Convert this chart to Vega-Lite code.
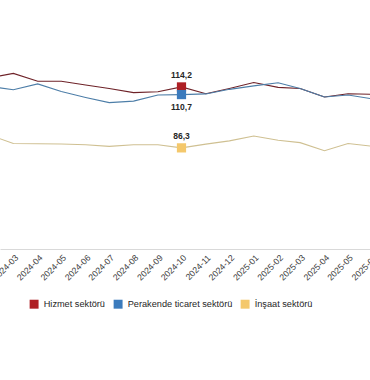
{
  "$schema": "https://vega.github.io/schema/vega-lite/v6.json",
  "width": 370,
  "height": 249,
  "autosize": "none",
  "padding": {"left": 0, "top": 0, "right": 0, "bottom": 131},
  "background": "white",
  "config": {
    "view": {"stroke": null},
    "font": "Liberation Sans",
    "locale": {"number": {"decimal": ",", "thousands": ".", "grouping": [3], "currency": ["", " TL"]}},
    "legend": {
      "orient": "none",
      "legendX": 29.5,
      "legendY": 299.5,
      "direction": "horizontal",
      "symbolType": "square",
      "symbolSize": 80,
      "symbolStrokeWidth": 0,
      "labelFontSize": 9.2,
      "labelColor": "#262626",
      "labelOffset": 5,
      "columnPadding": 8,
      "title": null
    }
  },
  "data": {
    "values": [
      {"month": "2024-02-01", "series": "Hizmet sektörü", "value": 118.5},
      {"month": "2024-03-01", "series": "Hizmet sektörü", "value": 120.4},
      {"month": "2024-04-01", "series": "Hizmet sektörü", "value": 116.8},
      {"month": "2024-05-01", "series": "Hizmet sektörü", "value": 116.8},
      {"month": "2024-06-01", "series": "Hizmet sektörü", "value": 115.1},
      {"month": "2024-07-01", "series": "Hizmet sektörü", "value": 113.5},
      {"month": "2024-08-01", "series": "Hizmet sektörü", "value": 111.6},
      {"month": "2024-09-01", "series": "Hizmet sektörü", "value": 112.0},
      {"month": "2024-10-01", "series": "Hizmet sektörü", "value": 114.2},
      {"month": "2024-11-01", "series": "Hizmet sektörü", "value": 111.1},
      {"month": "2024-12-01", "series": "Hizmet sektörü", "value": 113.5},
      {"month": "2025-01-01", "series": "Hizmet sektörü", "value": 116.2},
      {"month": "2025-02-01", "series": "Hizmet sektörü", "value": 114.0},
      {"month": "2025-03-01", "series": "Hizmet sektörü", "value": 113.5},
      {"month": "2025-04-01", "series": "Hizmet sektörü", "value": 109.6},
      {"month": "2025-05-01", "series": "Hizmet sektörü", "value": 111.1},
      {"month": "2025-06-01", "series": "Hizmet sektörü", "value": 110.8},
      {"month": "2024-02-01", "series": "Perakende ticaret sektörü", "value": 114.4},
      {"month": "2024-03-01", "series": "Perakende ticaret sektörü", "value": 112.9},
      {"month": "2024-04-01", "series": "Perakende ticaret sektörü", "value": 115.6},
      {"month": "2024-05-01", "series": "Perakende ticaret sektörü", "value": 112.1},
      {"month": "2024-06-01", "series": "Perakende ticaret sektörü", "value": 109.4},
      {"month": "2024-07-01", "series": "Perakende ticaret sektörü", "value": 107.0},
      {"month": "2024-08-01", "series": "Perakende ticaret sektörü", "value": 107.7},
      {"month": "2024-09-01", "series": "Perakende ticaret sektörü", "value": 110.5},
      {"month": "2024-10-01", "series": "Perakende ticaret sektörü", "value": 110.7},
      {"month": "2024-11-01", "series": "Perakende ticaret sektörü", "value": 111.0},
      {"month": "2024-12-01", "series": "Perakende ticaret sektörü", "value": 113.1},
      {"month": "2025-01-01", "series": "Perakende ticaret sektörü", "value": 114.7},
      {"month": "2025-02-01", "series": "Perakende ticaret sektörü", "value": 116.1},
      {"month": "2025-03-01", "series": "Perakende ticaret sektörü", "value": 113.5},
      {"month": "2025-04-01", "series": "Perakende ticaret sektörü", "value": 109.6},
      {"month": "2025-05-01", "series": "Perakende ticaret sektörü", "value": 110.5},
      {"month": "2025-06-01", "series": "Perakende ticaret sektörü", "value": 108.7},
      {"month": "2024-02-01", "series": "İnşaat sektörü", "value": 92.0},
      {"month": "2024-03-01", "series": "İnşaat sektörü", "value": 88.3},
      {"month": "2024-04-01", "series": "İnşaat sektörü", "value": 88.2},
      {"month": "2024-05-01", "series": "İnşaat sektörü", "value": 88.1},
      {"month": "2024-06-01", "series": "İnşaat sektörü", "value": 87.7},
      {"month": "2024-07-01", "series": "İnşaat sektörü", "value": 87.0},
      {"month": "2024-08-01", "series": "İnşaat sektörü", "value": 87.7},
      {"month": "2024-09-01", "series": "İnşaat sektörü", "value": 87.7},
      {"month": "2024-10-01", "series": "İnşaat sektörü", "value": 86.3},
      {"month": "2024-11-01", "series": "İnşaat sektörü", "value": 88.0},
      {"month": "2024-12-01", "series": "İnşaat sektörü", "value": 89.5},
      {"month": "2025-01-01", "series": "İnşaat sektörü", "value": 91.7},
      {"month": "2025-02-01", "series": "İnşaat sektörü", "value": 89.8},
      {"month": "2025-03-01", "series": "İnşaat sektörü", "value": 88.7},
      {"month": "2025-04-01", "series": "İnşaat sektörü", "value": 85.0},
      {"month": "2025-05-01", "series": "İnşaat sektörü", "value": 88.3},
      {"month": "2025-06-01", "series": "İnşaat sektörü", "value": 87.0}
    ]
  },
  "encoding": {
    "x": {
      "field": "month",
      "type": "temporal",
      "scale": {
        "type": "utc",
        "domain": [
          {"year": 2024, "month": 2, "date": 13, "utc": true},
          {"year": 2025, "month": 6, "date": 1, "utc": true}
        ],
        "range": [0, 372.4]
      },
      "axis": {
        "title": null,
        "values": [
          {"year": 2024, "month": 3, "date": 1, "utc": true},
          {"year": 2024, "month": 4, "date": 1, "utc": true},
          {"year": 2024, "month": 5, "date": 1, "utc": true},
          {"year": 2024, "month": 6, "date": 1, "utc": true},
          {"year": 2024, "month": 7, "date": 1, "utc": true},
          {"year": 2024, "month": 8, "date": 1, "utc": true},
          {"year": 2024, "month": 9, "date": 1, "utc": true},
          {"year": 2024, "month": 10, "date": 1, "utc": true},
          {"year": 2024, "month": 11, "date": 1, "utc": true},
          {"year": 2024, "month": 12, "date": 1, "utc": true},
          {"year": 2025, "month": 1, "date": 1, "utc": true},
          {"year": 2025, "month": 2, "date": 1, "utc": true},
          {"year": 2025, "month": 3, "date": 1, "utc": true},
          {"year": 2025, "month": 4, "date": 1, "utc": true},
          {"year": 2025, "month": 5, "date": 1, "utc": true},
          {"year": 2025, "month": 6, "date": 1, "utc": true}
        ],
        "labelExpr": "utcFormat(datum.value, '%Y-%m')",
        "labelAngle": -45,
        "labelFontSize": 8.7,
        "labelColor": "#3a3a3a",
        "labelPadding": 4,
        "labelBound": false,
        "labelOverlap": false,
        "labelFlush": false,
        "ticks": false,
        "grid": false,
        "domainColor": "#d9d9d9",
        "domainWidth": 1
      }
    },
    "y": {
      "field": "value",
      "type": "quantitative",
      "scale": {"domain": [40, 154], "zero": false, "nice": false},
      "axis": null
    }
  },
  "layer": [
    {
      "mark": {"type": "line", "strokeWidth": 1.1, "clip": true},
      "encoding": {
        "stroke": {
          "field": "series",
          "type": "nominal",
          "scale": {
            "domain": ["Hizmet sektörü", "Perakende ticaret sektörü", "İnşaat sektörü"],
            "range": ["#6e2228", "#4d7ea8", "#cfc092"]
          }
        }
      }
    },
    {
      "transform": [{"filter": "utcyear(datum.month) == 2024 && utcmonth(datum.month) == 9"}],
      "mark": {"type": "point", "shape": "square", "size": 85, "filled": true, "opacity": 1},
      "encoding": {
        "fill": {
          "field": "series",
          "type": "nominal",
          "scale": {
            "domain": ["Hizmet sektörü", "Perakende ticaret sektörü", "İnşaat sektörü"],
            "range": ["#ae1f24", "#3b7bbd", "#f4c86c"]
          }
        }
      }
    },
    {
      "transform": [{"filter": "utcyear(datum.month) == 2024 && utcmonth(datum.month) == 9 && datum.series != 'Perakende ticaret sektörü'"}],
      "mark": {"type": "text", "dy": -12, "fontSize": 8.5, "fontWeight": "bold", "color": "#262626", "baseline": "middle"},
      "encoding": {"text": {"field": "value", "type": "quantitative", "format": ".1f"}}
    },
    {
      "transform": [{"filter": "utcyear(datum.month) == 2024 && utcmonth(datum.month) == 9 && datum.series == 'Perakende ticaret sektörü'"}],
      "mark": {"type": "text", "dy": 12, "fontSize": 8.5, "fontWeight": "bold", "color": "#262626", "baseline": "middle"},
      "encoding": {"text": {"field": "value", "type": "quantitative", "format": ".1f"}}
    }
  ]
}
